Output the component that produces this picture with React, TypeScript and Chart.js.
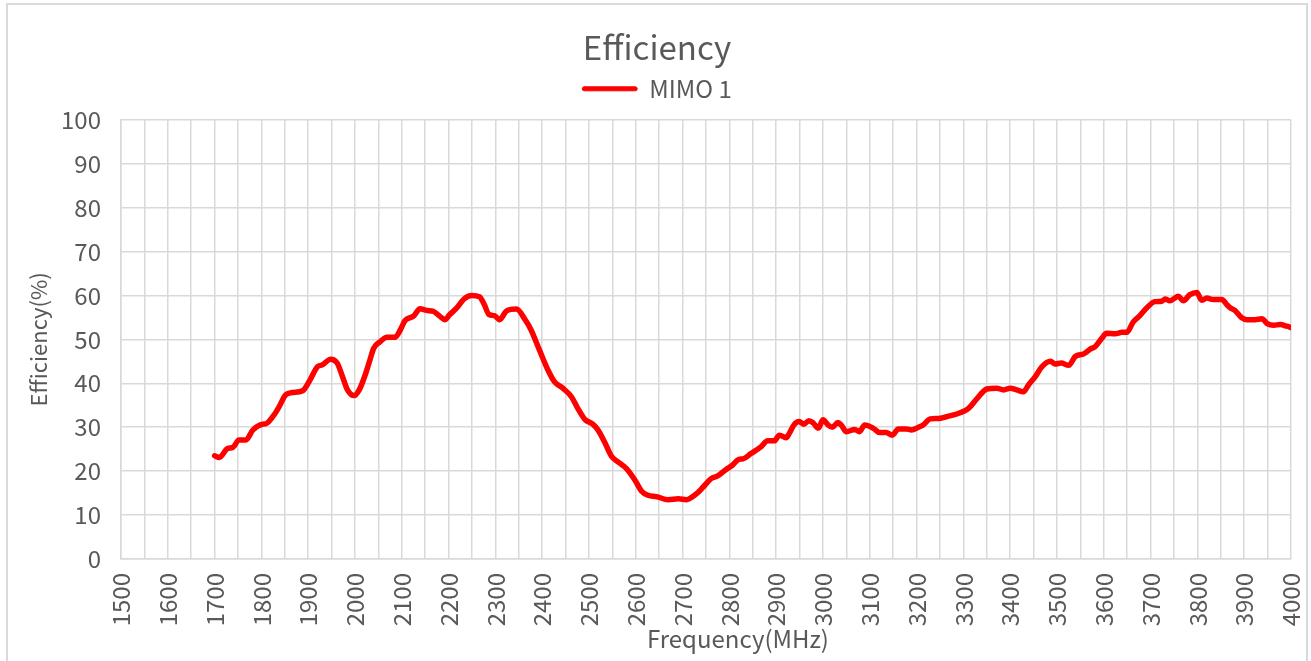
import React, { useEffect, useRef } from 'react';
import { Chart, registerables } from 'chart.js';

Chart.register(...registerables);

const CHART_TITLE = 'Efficiency';
const SERIES_LABEL = 'MIMO 1';
const X_TITLE = 'Frequency(MHz)';
const Y_TITLE = 'Efficiency(%)';

const X_MIN = 1500;
const X_MAX = 4000;
const X_GRID_STEP = 50;
const X_LABEL_STEP = 100;
const Y_MIN = 0;
const Y_MAX = 100;
const Y_STEP = 10;

const FREQUENCIES_MHZ = [
  1700, 1710, 1728, 1739, 1752, 1767, 1782, 1803, 1810, 1827, 1838, 1852, 1866, 1888,
  1902, 1920, 1930, 1948, 1962, 1973, 1984, 1998, 2009, 2023, 2031, 2040, 2054, 2068,
  2086, 2097, 2107, 2125, 2139, 2153, 2167, 2181, 2192, 2202, 2217, 2233, 2249, 2266,
  2276, 2286, 2298, 2309, 2324, 2345, 2364, 2376, 2394, 2412, 2426, 2444, 2462, 2476,
  2491, 2508, 2519, 2533, 2548, 2562, 2580, 2598, 2612, 2626, 2644, 2669, 2691, 2708,
  2730, 2744, 2761, 2775, 2793, 2807, 2820, 2829, 2846, 2868, 2882, 2896, 2907, 2921,
  2928, 2939, 2949, 2959, 2970, 2979, 2990, 3000, 3011, 3020, 3032, 3039, 3050, 3068,
  3078, 3089, 3107, 3121, 3135, 3148, 3161, 3178, 3189, 3204, 3214, 3229, 3246, 3264,
  3279, 3293, 3311, 3329, 3350, 3371, 3386, 3400, 3414, 3428, 3439, 3454, 3468, 3486,
  3496, 3509, 3525, 3539, 3557, 3571, 3582, 3596, 3606, 3624, 3639, 3649, 3663, 3677,
  3692, 3709, 3724, 3731, 3741, 3759, 3770, 3784, 3799, 3809, 3820, 3834, 3852, 3863,
  3870, 3880, 3894, 3906, 3923, 3938, 3949, 3963, 3977, 3991, 4000,
];

const EFFICIENCY_PCT = [
  23.5, 23.1, 25.2, 25.4, 27.1, 27.1, 29.4, 30.7, 30.8, 32.8, 34.7, 37.4, 37.9, 38.3,
  40.4, 43.8, 44.2, 45.5, 44.6, 41.6, 38.5, 37.2, 38.5, 42.3, 45.0, 48.0, 49.5, 50.5,
  50.5, 52.2, 54.3, 55.3, 57.0, 56.6, 56.4, 55.3, 54.5, 55.6, 57.1, 59.2, 60.0, 59.7,
  58.0, 55.7, 55.4, 54.5, 56.5, 56.9, 54.4, 52.2, 47.6, 43.1, 40.4, 38.9, 37.0, 34.3,
  31.8, 30.7, 29.4, 26.7, 23.4, 22.1, 20.6, 18.0, 15.5, 14.5, 14.2, 13.5, 13.7, 13.5,
  14.9, 16.4, 18.3, 18.9, 20.4, 21.4, 22.7, 22.8, 24.0, 25.6, 26.9, 26.9, 28.2, 27.6,
  28.6, 30.7, 31.3, 30.7, 31.5, 31.0, 29.8, 31.7, 30.5, 30.0, 31.1, 30.5, 29.0, 29.5,
  29.0, 30.5, 29.8, 28.8, 28.8, 28.2, 29.6, 29.6, 29.4, 30.0, 30.5, 31.9, 32.0, 32.4,
  32.8, 33.3, 34.3, 36.5, 38.7, 38.9, 38.5, 38.9, 38.5, 38.1, 39.6, 41.6, 43.8, 45.0,
  44.4, 44.6, 44.1, 46.1, 46.7, 47.8, 48.4, 50.3, 51.4, 51.3, 51.6, 51.6, 54.0, 55.4,
  57.2, 58.6, 58.7, 59.2, 58.8, 59.8, 58.8, 60.2, 60.7, 58.9, 59.4, 59.1, 59.1, 57.9,
  57.2, 56.6, 55.0, 54.5, 54.5, 54.7, 53.6, 53.2, 53.4, 53.0, 52.7,
];

const FONT_FAMILY = "'Noto Sans CJK SC', 'Noto Sans', sans-serif";
const TEXT_COLOR = '#595959';
const GRID_COLOR = '#d9d9d9';
const LINE_COLOR = '#ff0000';

// Draws the x-axis title (Excel places it slightly right of the plot centre).
const xTitlePlugin = {
  id: 'xTitle',
  afterDraw(chart: any) {
    const { ctx, chartArea } = chart;
    ctx.save();
    ctx.font = `normal 24px ${FONT_FAMILY}`;
    ctx.fillStyle = TEXT_COLOR;
    ctx.textAlign = 'center';
    ctx.textBaseline = 'middle';
    const cx = (chartArea.left + chartArea.right) / 2 + 32;
    ctx.fillText(X_TITLE, cx, chartArea.bottom + 80);
    ctx.restore();
  },
};

export default function App() {
  const canvasRef = useRef<HTMLCanvasElement | null>(null);

  useEffect(() => {
    const canvas = canvasRef.current;
    if (!canvas) return;
    const points = FREQUENCIES_MHZ.map((f, i) => ({ x: f, y: EFFICIENCY_PCT[i] }));

    const chart = new Chart(canvas, {
      type: 'line',
      data: {
        datasets: [
          {
            label: SERIES_LABEL,
            data: points,
            borderColor: LINE_COLOR,
            backgroundColor: LINE_COLOR,
            borderWidth: 5.5,
            pointRadius: 0,
            pointHoverRadius: 0,
            tension: 0.4,
            cubicInterpolationMode: 'monotone',
            borderCapStyle: 'round',
            borderJoinStyle: 'round',
            fill: false,
          },
        ],
      },
      plugins: [xTitlePlugin],
      options: {
        responsive: false,
        animation: false,
        devicePixelRatio: 1,
        layout: { padding: { left: 23, right: 20, top: 0, bottom: 0 } },
        plugins: {
          title: {
            display: true,
            text: CHART_TITLE,
            color: TEXT_COLOR,
            font: { family: FONT_FAMILY, size: 33, weight: 'normal', lineHeight: 0.6 },
            padding: { top: 38, bottom: 0 },
          },
          // empty spacer between the legend and the plot area
          subtitle: {
            display: true,
            text: '',
            position: 'top',
            weight: 500,
            font: { size: 9, lineHeight: 1 },
            padding: 0,
          },
          legend: {
            display: true,
            position: 'top',
            labels: {
              color: TEXT_COLOR,
              font: { family: FONT_FAMILY, size: 24, weight: 'normal' },
              boxWidth: 55,
              boxHeight: 4,
              useBorderRadius: true,
              borderRadius: 2,
              padding: 19,
              generateLabels: (c: any) =>
                Chart.defaults.plugins.legend.labels.generateLabels(c).map((l: any) => ({
                  ...l,
                  lineWidth: 1,
                  fillStyle: LINE_COLOR,
                  strokeStyle: LINE_COLOR,
                  fontColor: TEXT_COLOR,
                })),
            },
          },
          tooltip: { enabled: false },
        },
        scales: {
          x: {
            type: 'linear',
            min: X_MIN,
            max: X_MAX,
            afterFit: (scale: any) => {
              scale.height = 102;
              scale.paddingRight = 0;
              scale.paddingLeft = 0;
            },
            ticks: {
              stepSize: X_GRID_STEP,
              autoSkip: false,
              minRotation: 90,
              maxRotation: 90,
              padding: 14,
              color: TEXT_COLOR,
              font: { family: FONT_FAMILY, size: 24 },
              callback: (v: any) => (Number(v) % X_LABEL_STEP === 0 ? String(v) : ''),
            },
            grid: { color: GRID_COLOR, lineWidth: 1.5, drawTicks: false },
            border: { color: GRID_COLOR, width: 1.5 },
            title: { display: false, text: X_TITLE },
          },
          y: {
            type: 'linear',
            min: Y_MIN,
            max: Y_MAX,
            afterFit: (scale: any) => {
              scale.width = 98;
            },
            ticks: {
              stepSize: Y_STEP,
              padding: 20,
              color: TEXT_COLOR,
              font: { family: FONT_FAMILY, size: 24 },
            },
            grid: { color: GRID_COLOR, lineWidth: 1.5, drawTicks: false },
            border: { color: GRID_COLOR, width: 1.5 },
            title: {
              display: true,
              text: Y_TITLE,
              color: TEXT_COLOR,
              font: { family: FONT_FAMILY, size: 22 },
              padding: { top: 2, bottom: 0 },
            },
          },
        },
      },
    });
    return () => chart.destroy();
  }, []);

  return (
    <div
      style={{
        position: 'absolute',
        left: 0,
        top: 0,
        width: 1311,
        height: 661,
        overflow: 'hidden',
        background: '#ffffff',
      }}
    >
      <div
        style={{
          position: 'absolute',
          left: 6,
          top: 3,
          right: 3,
          bottom: -10,
          border: `2px solid ${GRID_COLOR}`,
        }}
      />
      <canvas
        ref={canvasRef}
        width={1311}
        height={661}
        style={{ position: 'absolute', left: 0, top: 0, width: 1311, height: 661 }}
      />
    </div>
  );
}
